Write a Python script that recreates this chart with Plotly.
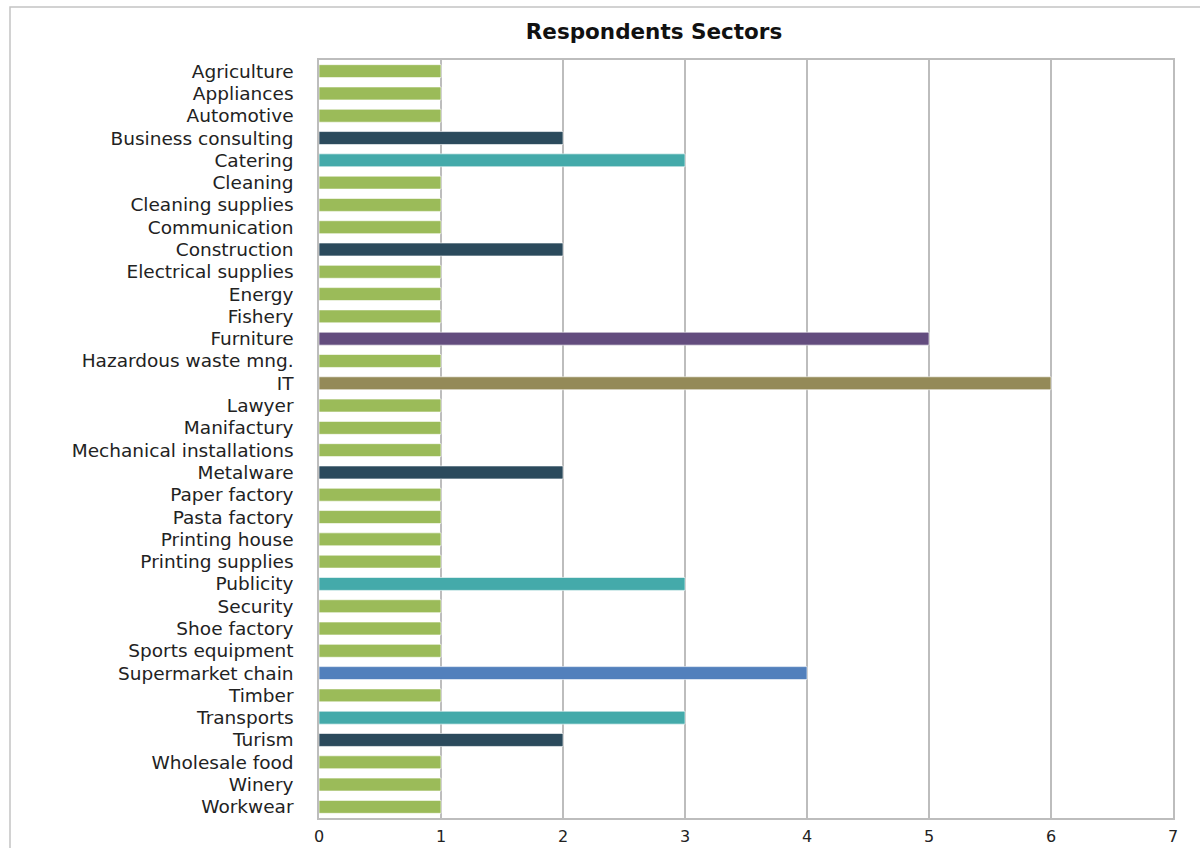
import plotly.graph_objects as go

sectors = [
    "Agriculture", "Appliances", "Automotive", "Business consulting", "Catering",
    "Cleaning", "Cleaning supplies", "Communication", "Construction",
    "Electrical supplies", "Energy", "Fishery", "Furniture",
    "Hazardous waste mng.", "IT", "Lawyer", "Manifactury",
    "Mechanical installations", "Metalware", "Paper factory", "Pasta factory",
    "Printing house", "Printing supplies", "Publicity", "Security",
    "Shoe factory", "Sports equipment", "Supermarket chain", "Timber",
    "Transports", "Turism", "Wholesale food", "Winery", "Workwear",
]
respondents = [
    1, 1, 1, 2, 3,
    1, 1, 1, 2,
    1, 1, 1, 5,
    1, 6, 1, 1,
    1, 2, 1, 1,
    1, 1, 3, 1,
    1, 1, 4, 1,
    3, 2, 1, 1, 1,
]
x_ticks = [0, 1, 2, 3, 4, 5, 6, 7]

# colour of a bar depends on its count
count_colors = {
    1: "#9BBB59",
    2: "#2B4A5C",
    3: "#44AAAA",
    4: "#5280BC",
    5: "#634C7E",
    6: "#948A58",
}
bar_colors = [count_colors[v] for v in respondents]

fig = go.Figure(
    go.Bar(
        x=respondents,
        y=sectors,
        orientation="h",
        marker=dict(color=bar_colors, line=dict(color="rgba(255,255,255,0.6)", width=1)),
        hoverinfo="x+y",
    )
)

W, H = 1200, 848
ml, mr, mt, mb = 319, 27, 60, 30
pw, ph = W - ml - mr, H - mt - mb

def px_x(p):
    return (p - ml) / pw

def px_y(p):
    return (H - mb - p) / ph

fig.update_layout(
    width=W,
    height=H,
    margin=dict(l=ml, r=mr, t=mt, b=mb, autoexpand=False),
    paper_bgcolor="white",
    plot_bgcolor="white",
    bargap=0.42,
    showlegend=False,
    font=dict(family="DejaVu Sans, sans-serif", color="#222222"),
    title=dict(
        text="<b>Respondents Sectors</b>",
        x=654 / W,
        xanchor="center",
        y=1 - 31 / H,
        yanchor="middle",
        font=dict(size=21.5, color="#111111"),
    ),
    xaxis=dict(
        range=[0, 7],
        tickvals=x_ticks,
        showgrid=True,
        gridcolor="#BDBDBD",
        gridwidth=1.5,
        zeroline=False,
        showline=True,
        linecolor="#BDBDBD",
        linewidth=1.5,
        mirror=True,
        ticks="outside",
        ticklen=3,
        tickcolor="rgba(0,0,0,0)",
        tickfont=dict(size=16, color="#222222"),
        fixedrange=True,
    ),
    yaxis=dict(
        autorange="reversed",
        tickmode="array",
        tickvals=sectors,
        ticktext=sectors,
        showgrid=False,
        showline=True,
        linecolor="#BDBDBD",
        linewidth=1.5,
        mirror=True,
        ticks="outside",
        ticklen=20,
        tickcolor="rgba(0,0,0,0)",
        tickfont=dict(size=18.5, color="#222222"),
        automargin=False,
        fixedrange=True,
    ),
    shapes=[
        dict(
            type="rect",
            xref="paper",
            yref="paper",
            x0=px_x(10),
            x1=px_x(1205),
            y0=px_y(860),
            y1=px_y(7),
            line=dict(color="#C4C4C4", width=1.5),
            fillcolor="rgba(0,0,0,0)",
            layer="below",
        )
    ],
)

fig.write_html("out.html")
